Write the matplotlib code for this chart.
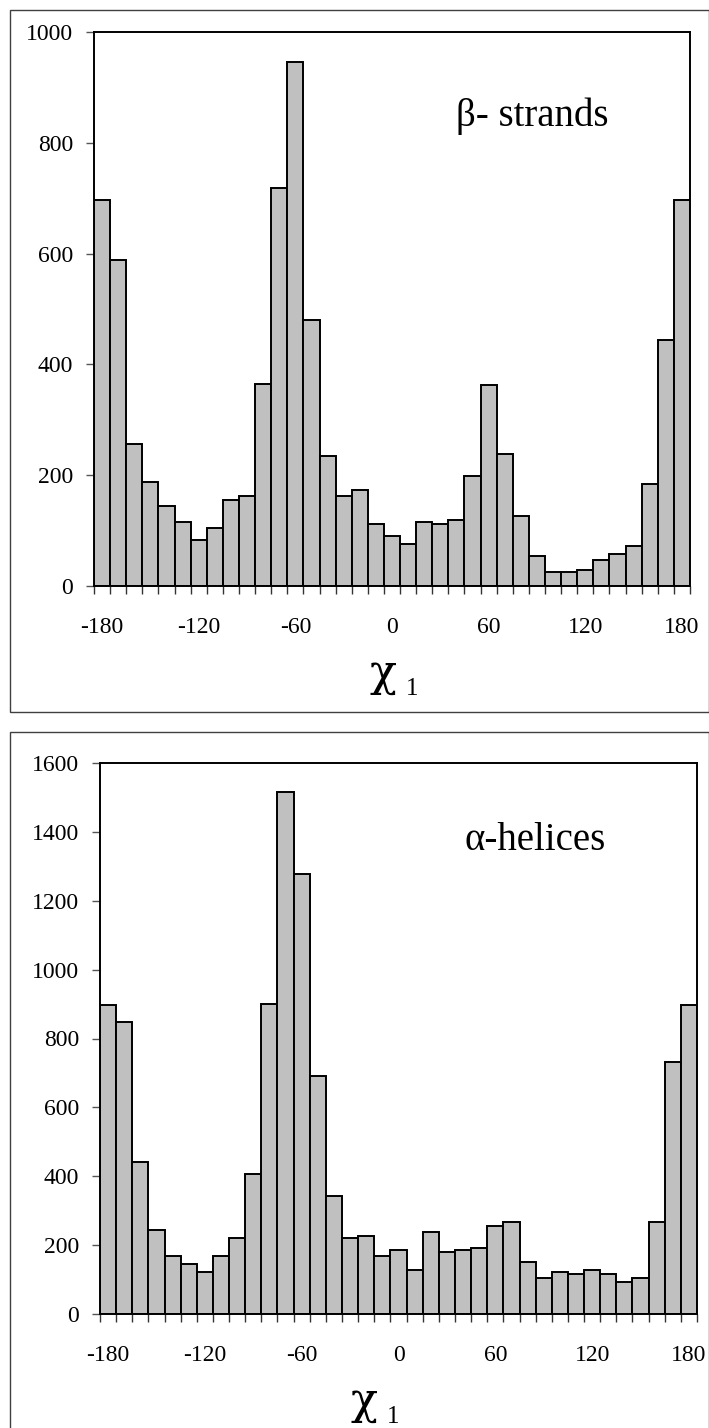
import numpy as np
import matplotlib
matplotlib.use("Agg")
import matplotlib.pyplot as plt
from matplotlib.patches import Rectangle

plt.rcParams['font.family'] = ['Liberation Serif', 'DejaVu Serif']

# chi1 bins, 10 degree steps (-180 and 180 both shown)
angles = list(range(-180, 190, 10))
strand_counts = [697, 589, 257, 188, 145, 116, 83, 105, 156, 163,
                 365, 719, 946, 480, 235, 163, 173, 112, 90, 76,
                 116, 112, 120, 199, 362, 239, 127, 55, 26, 26,
                 29, 47, 58, 73, 185, 444, 697]
helix_counts = [896, 848, 442, 244, 169, 145, 122, 169, 221, 407,
                901, 1517, 1278, 692, 343, 221, 227, 169, 186, 128,
                238, 180, 186, 192, 256, 267, 151, 105, 122, 116,
                128, 116, 93, 105, 267, 732, 896]
label_angles = [-180, -120, -60, 0, 60, 120, 180]

W, H = 709, 1428
fig = plt.figure(figsize=(W / 100, H / 100), dpi=100)


def px_box(x0, y0, x1, y1):
    return [x0 / W, 1 - y1 / H, (x1 - x0) / W, (y1 - y0) / H]


def draw_panel(box, frame, counts, ymax, title, title_xy, chi_xy, label_pad):
    # outer frame around the panel
    fx0, fy0, fx1, fy1 = frame
    fig.patches.append(Rectangle((fx0 / W, 1 - fy1 / H), (fx1 - fx0) / W, (fy1 - fy0) / H,
                                 transform=fig.transFigure, fill=False,
                                 edgecolor='#404040', linewidth=1.0))
    ax = fig.add_axes(px_box(*box))
    pos = np.arange(len(angles))
    ax.bar(pos, counts, width=1.0, color='#c0c0c0', edgecolor='black', linewidth=1.4)
    ax.set_xlim(-0.5, len(angles) - 0.5)
    ax.set_ylim(0, ymax)
    ax.set_yticks(np.arange(0, ymax + 1, 200))
    ax.set_xticks([angles.index(a) for a in label_angles])
    ax.set_xticklabels([str(a) for a in label_angles])
    ax.set_xticks(np.arange(-0.5, len(angles), 1.0), minor=True)
    ax.tick_params(axis='x', which='major', length=0, pad=label_pad, labelsize=17)
    ax.tick_params(axis='x', which='minor', length=6, width=1.0, color='#333333', direction='out')
    ax.tick_params(axis='y', length=6, width=1.0, color='#555555', direction='out',
                   pad=9, labelsize=17)
    for s in ax.spines.values():
        s.set_linewidth(1.4)
    ax.text(title_xy[0] / W, 1 - title_xy[1] / H, title, transform=fig.transFigure,
            fontsize=28, ha='left', va='baseline')
    fig.text(chi_xy[0] / W, 1 - chi_xy[1] / H, 'χ', fontsize=32, ha='center', va='baseline',
             family='DejaVu Serif')
    fig.text((chi_xy[0] + 29) / W, 1 - (chi_xy[1] + 9) / H, '1', fontsize=18,
             ha='center', va='baseline')
    return ax


draw_panel((94, 32, 690, 586), (10, 10, 709, 712), strand_counts, 1000,
           'β- strands', (456, 126), (383, 686), 22)
draw_panel((100, 763, 697, 1314), (10, 732, 709, 1440), helix_counts, 1600,
           'α-helices', (465, 850), (364, 1414), 22)

fig.savefig('out.png', dpi=100)
